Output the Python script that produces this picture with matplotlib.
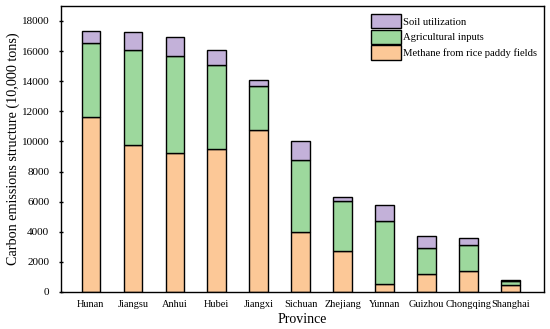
import numpy as np
import matplotlib
matplotlib.use("Agg")
import matplotlib.pyplot as plt

plt.rcParams["font.family"] = ["Liberation Serif", "DejaVu Serif"]

provinces = ["Hunan", "Jiangsu", "Anhui", "Hubei", "Jiangxi", "Sichuan",
             "Zhejiang", "Yunnan", "Guizhou", "Chongqing", "Shanghai"]
methane = [11630, 9770, 9220, 9510, 10730, 4000, 2720, 510, 1170, 1370, 440]
agri_inputs = [4930, 6310, 6440, 5590, 2960, 4760, 3300, 4220, 1730, 1770, 290]
soil_use = [780, 1190, 1280, 950, 400, 1280, 310, 1020, 800, 470, 90]

series_labels = ["Methane from rice paddy fields", "Agricultural inputs", "Soil utilization"]
colors = ["#fcc897", "#9dd89d", "#c3b1d9"]


def plotter():
    fig = plt.figure(figsize=(5.5, 3.29), dpi=100)
    ax = fig.add_axes([0.111, 0.1125, 0.878, 0.8695])

    x = np.arange(len(provinces))
    bottom = np.zeros(len(provinces))
    handles = []
    for vals, lab, col in zip([methane, agri_inputs, soil_use], series_labels, colors):
        b = ax.bar(x, vals, width=0.44, bottom=bottom, color=col,
                   edgecolor="black", linewidth=1.0, label=lab)
        handles.append(b)
        bottom += np.array(vals)

    ax.set_xlim(-0.71, 10.8)
    ax.set_ylim(0, 19000)
    ax.set_yticks(range(0, 18001, 2000))
    ax.set_xticks(x)
    ax.set_xticklabels(provinces, fontsize=7.5)
    ax.tick_params(axis="y", labelsize=8, direction="inout", length=3, width=1, pad=7)
    ax.tick_params(axis="x", length=0, pad=6)
    for s in ax.spines.values():
        s.set_linewidth(1.0)

    ax.set_ylabel("Carbon emissions structure (10,000 tons)", fontsize=10.2, labelpad=1)
    ax.set_xlabel("Province", fontsize=10, labelpad=3)

    ax.legend(handles[::-1], series_labels[::-1], loc="upper left",
              bbox_to_anchor=(0.642, 0.972), frameon=False, fontsize=7.7,
              handlelength=2.8, handleheight=1.7, labelspacing=0.12,
              handletextpad=0.2, borderpad=0, borderaxespad=0)

    fig.savefig("out.png", dpi=100)


if __name__ == "__main__":
    plotter()
